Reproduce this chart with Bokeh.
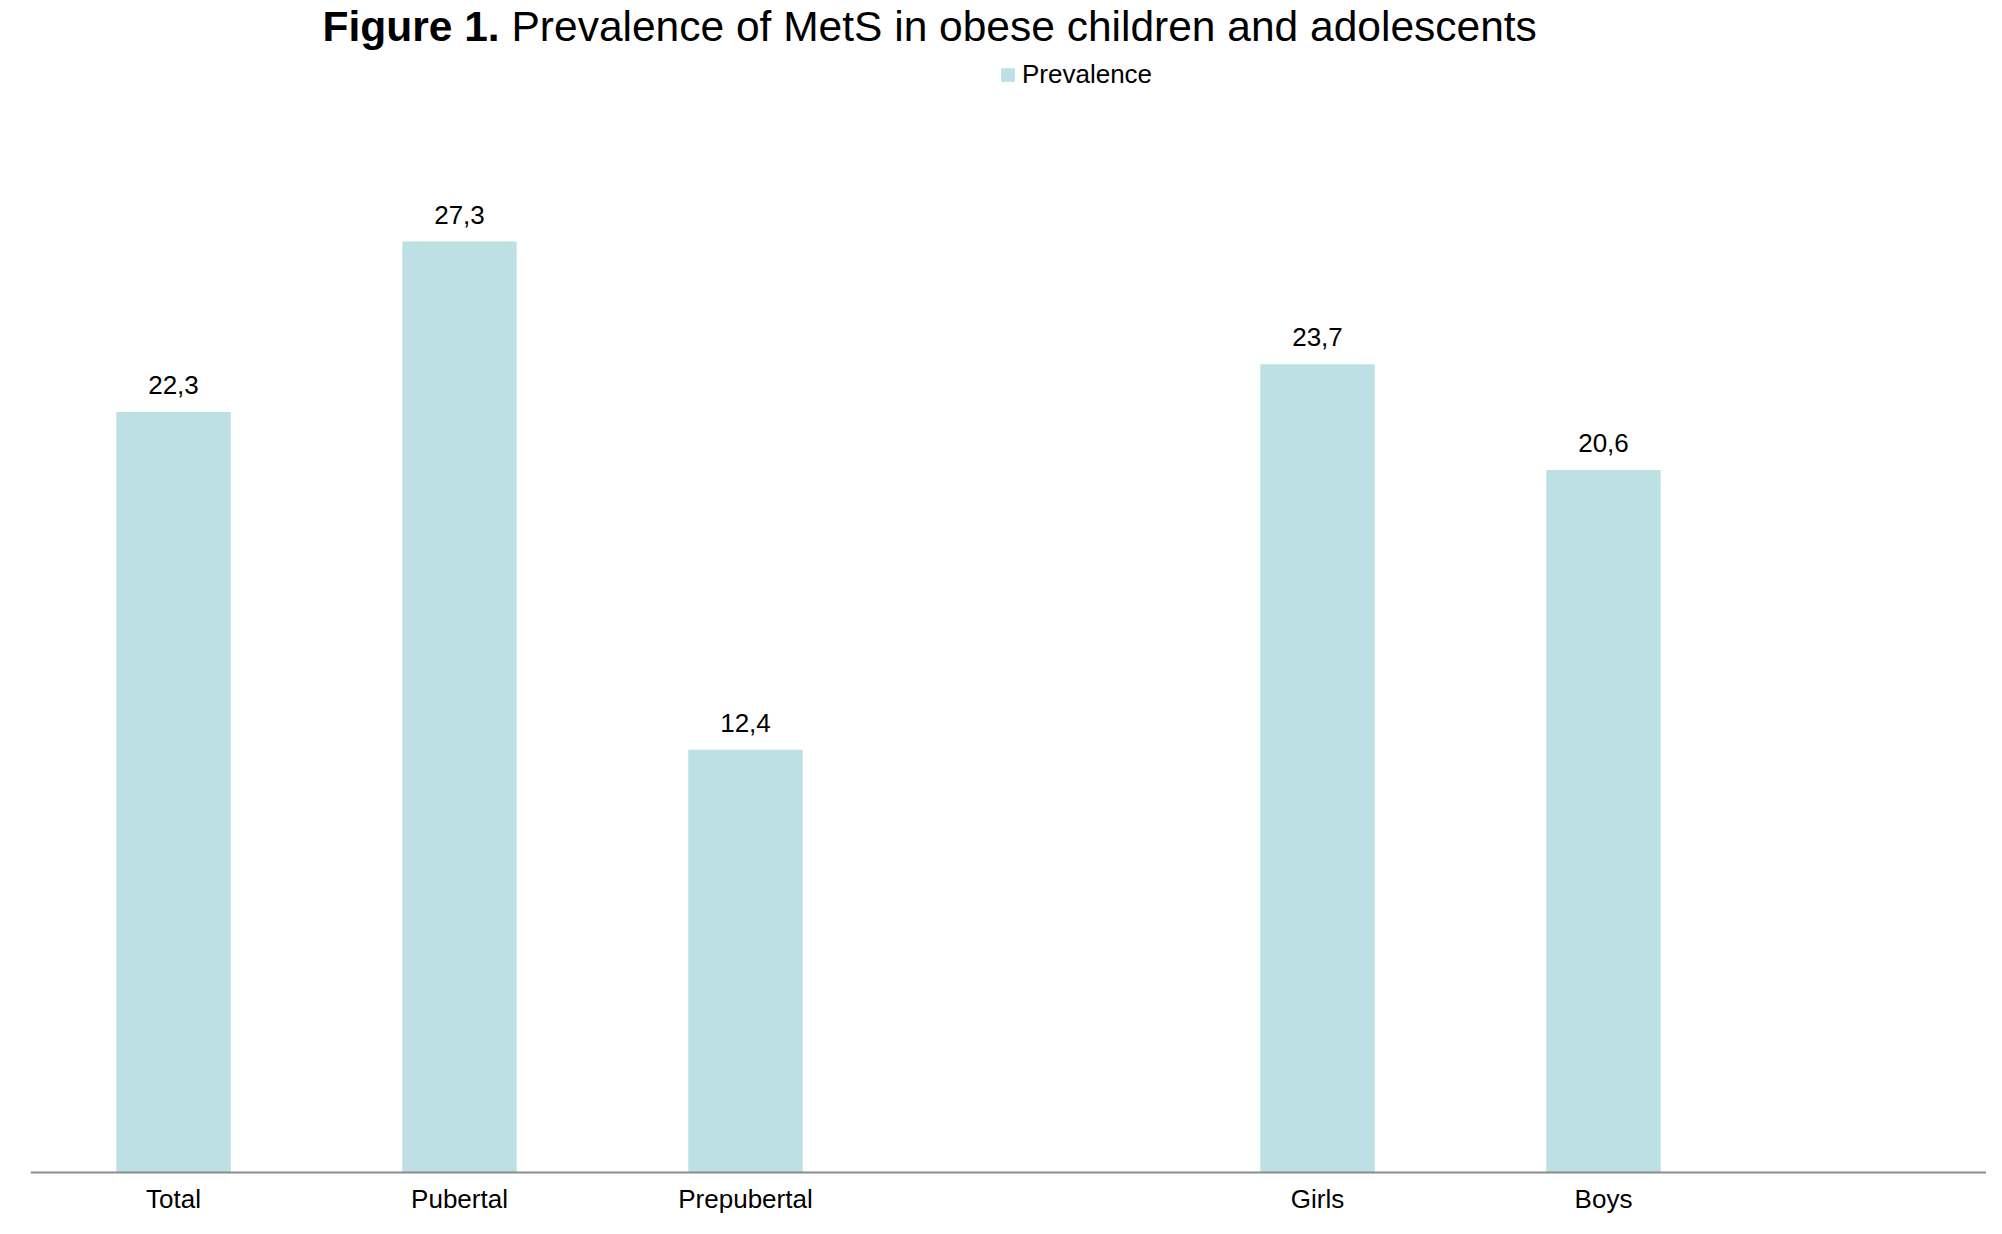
from bokeh.plotting import figure
from bokeh.models import Range1d, FixedTicker, Label, ColumnDataSource
from bokeh.core.properties import value
from bokeh.embed import file_html
from bokeh.resources import INLINE

# ---- data ----
categories = ["Total", "Pubertal", "Prepubertal", "", "Girls", "Boys"]
prevalence = [22.3, 27.3, 12.4, None, 23.7, 20.6]
series_name = "Prevalence"
title_bold = "Figure 1."
title_rest = "Prevalence of MetS in obese children and adolescents"

FONT = "Liberation Sans"
BAR_COLOR = "#BCE0E3"

xs = [i for i, v in enumerate(prevalence) if v is not None]
tops = [v for v in prevalence if v is not None]
texts = [f"{v:.1f}".replace(".", ",") for v in tops]
src = ColumnDataSource(dict(x=xs, top=tops, label=texts))

W, H = 1986, 1218
LEFT = 30
Y0 = 1172        # pixel row of the baseline (value 0)
PPU = 34.1       # pixels per percentage point
SLOT = 286.0     # pixels per category slot

p = figure(width=W, height=H, output_backend="svg", toolbar_location=None,
           x_range=Range1d(-0.5, -0.5 + (W - LEFT) / SLOT),
           y_range=Range1d(-(H - Y0) / PPU, Y0 / PPU),
           y_axis_location=None)
p.min_border_left = LEFT
p.min_border_right = 0
p.min_border_top = 0
p.min_border_bottom = 0
p.outline_line_color = None
p.xgrid.visible = False
p.ygrid.visible = False
p.background_fill_color = "white"
p.border_fill_color = "white"

p.vbar(x="x", top="top", width=0.40, source=src, fill_color=BAR_COLOR,
       line_color=None, legend_label=series_name)

p.text(x="x", y="top", text="label", source=src, y_offset=-27,
       text_align="center", text_baseline="alphabetic",
       text_font=value(FONT), text_font_size="26px", text_color="#000000")

ax = p.xaxis[0]
ax.fixed_location = 0
ax.ticker = FixedTicker(ticks=xs)
ax.major_label_overrides = {x: categories[x] for x in xs}
ax.major_tick_line_color = None
ax.minor_tick_line_color = None
ax.axis_line_color = "#8c8c8c"
ax.axis_line_width = 2
ax.major_label_text_font = FONT
ax.major_label_text_font_size = "26px"
ax.major_label_text_color = "#000000"
ax.major_label_standoff = 5

lg = p.legend[0]
lg.location = (969, 1128)
lg.orientation = "horizontal"
lg.border_line_color = None
lg.background_fill_alpha = 0
lg.padding = 0
lg.margin = 0
lg.glyph_width = 17
lg.glyph_height = 17
lg.label_standoff = 6
lg.label_text_font = FONT
lg.label_text_font_size = "26px"
lg.label_text_color = "#000000"

p.add_layout(Label(x=292, y=1192, x_units="screen", y_units="screen",
                   text=title_bold, text_font=FONT, text_font_size="42.5px",
                   text_font_style="bold", text_baseline="alphabetic",
                   text_color="#000000"))
p.add_layout(Label(x=481, y=1192, x_units="screen", y_units="screen",
                   text=title_rest, text_font=FONT, text_font_size="42.5px",
                   text_baseline="alphabetic", text_color="#000000"))

open("out.html", "w").write(file_html(p, INLINE))
